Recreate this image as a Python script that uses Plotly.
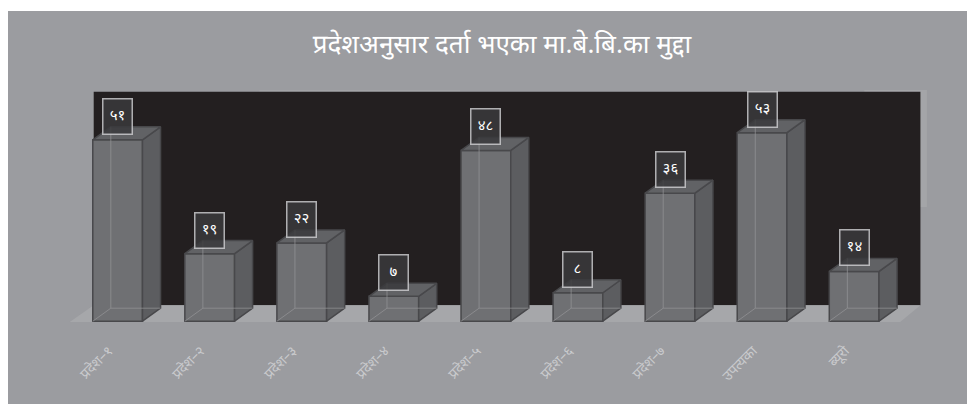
"""प्रदेशअनुसार मुद्दा — 3D जस्तो स्तम्भ चार्ट।"""

import plotly.graph_objects as go

categories = ["प्रदेश–१", "प्रदेश–२", "प्रदेश–३", "प्रदेश–४", "प्रदेश–५",
              "प्रदेश–६", "प्रदेश–७", "उपत्यका", "ब्यूरो"]
values = [51, 19, 22, 7, 48, 8, 36, 53, 14]
value_labels = ["५१", "१९", "२२", "७", "४८", "८", "३६", "५३", "१४"]
title_text = "प्रदेशअनुसार दर्ता भएका मा.बे.बि.का मुद्दा"

FONT = "Noto Sans Devanagari, Noto Sans, sans-serif"
W = 0.54      # front face width (category units)
DX = 0.196    # depth offset in x
DY = 3.66     # depth offset in y

xs = list(range(len(categories)))

# side / top faces and hidden edges from the data
side_x, side_y, top_x, top_y, edge_x, edge_y = [], [], [], [], [], []
for i, v in zip(xs, values):
    l, r = i - W / 2, i + W / 2
    side_x += [r, r + DX, r + DX, r, r, None]
    side_y += [0, DY, v + DY, v, 0, None]
    top_x += [l, l + DX, r + DX, r, l, None]
    top_y += [v, v + DY, v + DY, v, v, None]
    edge_x += [l + DX, l + DX, None, l, l + DX, r + DX, None]
    edge_y += [v + DY, DY, None, 0, DY, DY, None]

fig = go.Figure()
fig.add_trace(go.Bar(
    x=xs, y=values, width=W,
    marker=dict(color="#6f7073", line=dict(color="#48484b", width=1.5)),
    hoverinfo="skip",
))
fig.add_trace(go.Scatter(
    x=side_x, y=side_y, mode="lines", fill="toself", fillcolor="#5c5d60",
    line=dict(color="#48484b", width=1.5), hoverinfo="skip",
))
fig.add_trace(go.Scatter(
    x=top_x, y=top_y, mode="lines", fill="toself", fillcolor="#616265",
    line=dict(color="#48484b", width=1.5), hoverinfo="skip",
))
fig.add_trace(go.Scatter(
    x=edge_x, y=edge_y, mode="lines",
    line=dict(color="rgba(150,150,153,0.7)", width=1), hoverinfo="skip",
))

for i, v, lab in zip(xs, values, value_labels):
    fig.add_annotation(
        x=i, y=v, text=lab, showarrow=False, yanchor="bottom", yshift=5,
        font=dict(family=FONT, size=15, color="white"),
        bgcolor="rgba(58,58,60,0.85)", bordercolor="rgba(210,210,212,0.8)",
        borderwidth=1.5, borderpad=2, width=24, height=30,
    )

shapes = [
    # faint lighter panels behind the backdrop
    dict(type="rect", xref="x", yref="y", x0=8.11, x1=8.79, y0=32.1, y1=66.2,
         fillcolor="#a4a5a8", line=dict(width=0), layer="below"),
    dict(type="rect", xref="x", yref="y", x0=1.54, x1=3.72, y0=63, y1=66.2,
         fillcolor="#a2a3a6", line=dict(width=0), layer="below"),
    # dark backdrop
    dict(type="rect", xref="x", yref="y", x0=-0.26, x1=8.72, y0=4.5, y1=64.5,
         fillcolor="#231f20", line=dict(width=0), layer="below"),
    # floor
    dict(type="path", xref="x", yref="y",
         path="M -0.52 -0.2 L -0.26 4.5 L 8.72 4.5 L 8.5 -0.2 Z",
         fillcolor="#a6a7aa", line=dict(width=0), layer="below"),
    # white strip at the top of the page
    dict(type="rect", xref="paper", yref="paper", x0=-0.1, x1=1.1,
         y0=1.339, y1=1.4, fillcolor="white", line=dict(width=0)),
]

fig.update_layout(
    width=975, height=404,
    showlegend=False,
    barmode="overlay",
    paper_bgcolor="#9b9ca0",
    plot_bgcolor="rgba(0,0,0,0)",
    margin=dict(l=59, r=46, t=82, b=89, autoexpand=False),
    title=dict(text=title_text, x=0.5, xref="paper", y=0.911, yref="container",
               yanchor="middle",
               font=dict(family=FONT, size=26, color="white")),
    shapes=shapes,
)
fig.update_xaxes(
    range=[-0.55, 8.9], tickmode="array", tickvals=xs, ticktext=categories,
    tickangle=-45, tickfont=dict(family=FONT, size=14, color="#c9cacd"),
    showgrid=False, zeroline=False, showline=False, ticks="",
    ticklabelstandoff=16, ticklabelshift=-9,
)
fig.update_yaxes(range=[-0.5, 65], visible=False)

fig.write_html("out.html")
